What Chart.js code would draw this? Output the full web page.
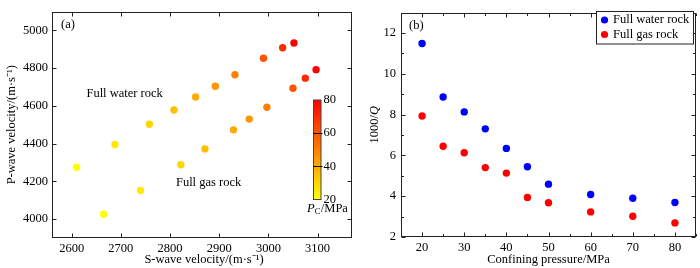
<!DOCTYPE html>
<html><head><meta charset="utf-8">
<script src="https://cdn.jsdelivr.net/npm/chart.js@4.4.1/dist/chart.umd.min.js"></script>
<style>
html,body{margin:0;padding:0;background:#fff;}
#wrap{position:relative;width:700px;height:268px;overflow:hidden;}
#c1{position:absolute;left:0;top:0;}
#c2{position:absolute;left:360px;top:0;}
</style></head><body>
<div id="wrap"><canvas id="c1" width="360" height="268"></canvas><canvas id="c2" width="340" height="268"></canvas></div>
<script>
// ---- data ----
const pressures = [20, 25, 30, 35, 40, 45, 50, 60, 70, 80];
const waterVs = [2610, 2688, 2758, 2808, 2852, 2892, 2932, 2990, 3029, 3052];
const waterVp = [4275, 4395, 4503, 4578, 4647, 4704, 4765, 4852, 4908, 4933];
const gasVs = [2665, 2740, 2822, 2871, 2929, 2961, 2997, 3050, 3075, 3097];
const gasVp = [4026, 4152, 4288, 4372, 4473, 4530, 4593, 4693, 4747, 4792];
const waterQ = [11.48, 8.86, 8.13, 7.30, 6.34, 5.44, 4.59, 4.08, 3.90, 3.69];
const gasQ = [7.93, 6.45, 6.13, 5.40, 5.13, 3.94, 3.68, 3.23, 3.02, 2.69];
const seriesNames = ['Full water rock', 'Full gas rock'];
const colorbarTicks = [20, 40, 60, 80];

const FONT = 'Liberation Serif';
const FS = 12.5;
const INK = '#222';

function pColor(p) {
  const t = Math.max(0, Math.min(1, (p - 20) / 60));
  const g = Math.round(255 * (1 - t));
  return `rgb(255,${g},0)`;
}

function frame(opts) {
  return {
    id: 'frame',
    afterDraw(chart) {
      const { ctx, chartArea: a, scales: { x, y } } = chart;
      ctx.save();
      ctx.strokeStyle = INK; ctx.lineWidth = 1;
      const L = Math.round(a.left) + 0.5, R = Math.round(a.right) - 0.5;
      const T = Math.round(a.top) + 0.5, B = Math.round(a.bottom) - 0.5;
      ctx.strokeRect(L, T, R - L, B - T);
      const maj = 4, mn = 2.5;
      ctx.beginPath();
      const xt = x.ticks.map(t => t.value);
      const yt = y.ticks.map(t => t.value);
      const xs = [], ys = [];
      xt.forEach(v => xs.push([v, maj]));
      yt.forEach(v => ys.push([v, maj]));
      if (opts.minorX) for (let v = Math.ceil(x.min / opts.minorX) * opts.minorX; v <= x.max; v += opts.minorX) if (!xt.includes(v)) xs.push([v, mn]);
      if (opts.minorY) for (let v = Math.ceil(y.min / opts.minorY) * opts.minorY; v <= y.max; v += opts.minorY) if (!yt.includes(v)) ys.push([v, mn]);
      xs.forEach(([v, l]) => {
        const px = Math.round(x.getPixelForValue(v)) + 0.5;
        ctx.moveTo(px, B); ctx.lineTo(px, B - l);
        ctx.moveTo(px, T); ctx.lineTo(px, T + l);
      });
      ys.forEach(([v, l]) => {
        const py = Math.round(y.getPixelForValue(v)) + 0.5;
        ctx.moveTo(L, py); ctx.lineTo(L + l, py);
        ctx.moveTo(R, py); ctx.lineTo(R - l, py);
      });
      ctx.stroke();
      ctx.restore();
    }
  };
}

function drawRich(ctx, parts, x, y, rotate) {
  ctx.save();
  ctx.translate(x, y);
  if (rotate) ctx.rotate(-Math.PI / 2);
  let w = 0;
  parts.forEach(p => { ctx.font = `${p[1] ? 'italic ' : ''}${p[2]}px "${FONT}"`; w += ctx.measureText(p[0]).width; });
  let cx = -w / 2;
  ctx.fillStyle = '#000';
  ctx.textBaseline = 'middle';
  ctx.textAlign = 'left';
  parts.forEach(p => {
    ctx.font = `${p[1] ? 'italic ' : ''}${p[2]}px "${FONT}"`;
    ctx.fillText(p[0], cx, p[3] || 0);
    cx += ctx.measureText(p[0]).width;
  });
  ctx.restore();
}

const decorA = {
  id: 'decorA',
  afterDraw(chart) {
    const { ctx, chartArea: a, scales: { x, y } } = chart;
    ctx.save();
    ctx.fillStyle = '#000';
    ctx.font = `${FS}px "${FONT}"`;
    ctx.textBaseline = 'middle';
    ctx.textAlign = 'left';
    ctx.fillText('(a)', a.left + 9, a.top + 13);
    ctx.fillText('Full water rock', x.getPixelForValue(2630), y.getPixelForValue(4667));
    ctx.fillText('Full gas rock', x.getPixelForValue(2812), y.getPixelForValue(4194));
    drawRich(ctx, [['S-wave velocity/(m·s⁻¹)', false, FS]], (a.left + a.right) / 2 + 2, 260);
    drawRich(ctx, [['P-wave velocity/(m·s⁻¹)', false, FS]], 12, (a.top + a.bottom) / 2, true);
    // colorbar
    const bx = 313.5, bw = 7.5, bTop = 100, bBot = 199.5;
    const pyOf = p => bBot - (p - 20) / 60 * (bBot - bTop);
    const g = ctx.createLinearGradient(0, bBot, 0, bTop);
    for (let p = 20; p <= 80; p += 5) g.addColorStop((p - 20) / 60, pColor(p));
    ctx.fillStyle = g;
    ctx.fillRect(bx, bTop, bw, bBot - bTop);
    ctx.strokeStyle = '#444'; ctx.lineWidth = 1;
    ctx.strokeRect(bx, bTop, bw, bBot - bTop);
    ctx.strokeStyle = '#000';
    ctx.beginPath();
    colorbarTicks.forEach(p => {
      const py = Math.round(pyOf(p)) + 0.5;
      if (p !== 20 && p !== 80) { ctx.moveTo(bx, py); ctx.lineTo(bx + bw + 1.5, py); }
    });
    ctx.stroke();
    ctx.fillStyle = '#000';
    ctx.font = `${FS}px "${FONT}"`;
    colorbarTicks.forEach(p => ctx.fillText(String(p), 323.5, pyOf(p)));
    ctx.restore();
    ctx.save();
    ctx.fillStyle = '#000';
    ctx.textBaseline = 'middle';
    let cx = 307;
    ctx.font = `italic ${FS}px "${FONT}"`;
    ctx.fillText('P', cx, 209); cx += ctx.measureText('P').width;
    ctx.font = `8.5px "${FONT}"`;
    ctx.fillText('C', cx, 212); cx += ctx.measureText('C').width + 0.5;
    ctx.font = `${FS}px "${FONT}"`;
    ctx.fillText('/MPa', cx, 209);
    ctx.restore();
  }
};

const decorB = {
  id: 'decorB',
  afterDraw(chart) {
    const { ctx, chartArea: a } = chart;
    ctx.save();
    ctx.fillStyle = '#000';
    ctx.font = `${FS}px "${FONT}"`;
    ctx.textBaseline = 'middle';
    ctx.textAlign = 'left';
    ctx.fillText('(b)', a.left + 8, a.top + 13);
    drawRich(ctx, [['Confining pressure/MPa', false, FS]], (a.left + a.right) / 2, 260);
    drawRich(ctx, [['1000/', false, FS], ['Q', true, FS]], 15, (a.top + a.bottom) / 2, true);
    const lx = 596 - 360 + 0.5, ly = 11.5, lw = 97, lh = 32.5;
    ctx.fillStyle = '#fff';
    ctx.fillRect(lx, ly, lw, lh);
    ctx.strokeStyle = INK; ctx.lineWidth = 1;
    ctx.strokeRect(lx, ly, lw, lh);
    chart.data.datasets.forEach((ds, i) => {
      const cy = ly + 8.5 + i * 14.5;
      ctx.beginPath();
      ctx.fillStyle = ds.backgroundColor;
      ctx.arc(lx + 8, cy, 3.6, 0, Math.PI * 2);
      ctx.fill();
      ctx.fillStyle = '#000';
      ctx.fillText(ds.label, lx + 16.5, cy);
    });
    ctx.restore();
  }
};

function axis(min, max, step, fitSize, isX, pad) {
  return {
    type: 'linear', min, max,
    grid: { display: false, drawTicks: false },
    border: { display: false },
    ticks: {
      autoSkip: false, maxRotation: 0, minRotation: 0,
      color: '#000', padding: pad, font: { family: FONT, size: FS },
      callback: v => String(Math.round(v))
    },
    afterBuildTicks: s => {
      const t = [];
      for (let v = Math.ceil(min / step - 1e-9) * step; v <= max + 1e-9; v += step) t.push({ value: v });
      s.ticks = t;
    },
    afterFit: s => { if (isX) s.height = fitSize; else s.width = fitSize; }
  };
}

const common = {
  responsive: false, animation: false, devicePixelRatio: 1,
  plugins: { legend: { display: false }, tooltip: { enabled: false } }
};

new Chart(document.getElementById('c1'), {
  type: 'scatter',
  data: {
    datasets: [
      { label: seriesNames[0], data: waterVs.map((v, i) => ({ x: v, y: waterVp[i] })),
        pointBackgroundColor: pressures.map(pColor), pointBorderWidth: 0, pointRadius: 3.7 },
      { label: seriesNames[1], data: gasVs.map((v, i) => ({ x: v, y: gasVp[i] })),
        pointBackgroundColor: pressures.map(pColor), pointBorderWidth: 0, pointRadius: 3.7 }
    ]
  },
  options: Object.assign({}, common, {
    layout: { padding: { top: 1, right: 8, left: 0, bottom: 0 } },
    scales: { x: axis(2560, 3170, 100, 30, true, 3), y: axis(3900, 5100, 200, 52, false, 4) }
  }),
  plugins: [frame({}), decorA]
});

new Chart(document.getElementById('c2'), {
  type: 'scatter',
  data: {
    datasets: [
      { label: seriesNames[0], data: pressures.map((p, i) => ({ x: p, y: waterQ[i] })),
        backgroundColor: '#0000ff', pointBackgroundColor: '#0000ff', pointBorderWidth: 0, pointRadius: 3.7 },
      { label: seriesNames[1], data: pressures.map((p, i) => ({ x: p, y: gasQ[i] })),
        backgroundColor: '#ff0000', pointBackgroundColor: '#ff0000', pointBorderWidth: 0, pointRadius: 3.7 }
    ]
  },
  options: Object.assign({}, common, {
    layout: { padding: { top: 1, right: 2, left: 0, bottom: 0 } },
    scales: { x: axis(15, 85, 10, 31, true, 3), y: axis(2, 13, 2, 41, false, 5) }
  }),
  plugins: [frame({ minorX: 5, minorY: 1 }), decorB]
});
</script>
</body></html>
